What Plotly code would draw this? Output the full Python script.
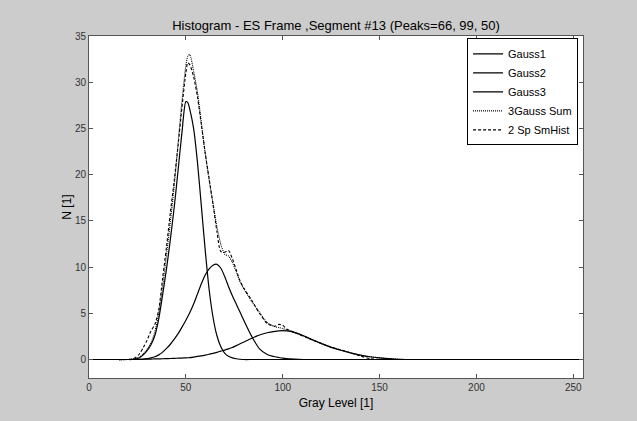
import plotly.graph_objects as go

gray_level = [0, 10, 20, 22, 24, 26, 28, 30, 32, 34, 36, 38, 40, 42, 44, 46, 48, 50, 51, 52,
              54, 56, 58, 60, 62, 64, 66, 68, 70, 72, 74, 76, 78, 80, 84, 88, 92, 96, 98, 100,
              102, 104, 108, 112, 116, 120, 125, 130, 135, 140, 145, 150, 155, 160, 165, 170, 200, 255]

gauss1 = [0, 0, 0, 0, 0.05, 0.2, 0.5, 0.95, 1.6, 2.6, 4.4, 7.0, 9.8, 13.0, 16.5, 20.5, 24.6, 27.9, 27.8, 27.1,
          25.0, 21.3, 16.6, 11.8, 7.6, 4.6, 2.6, 1.4, 0.7, 0.35, 0.18, 0.08, 0.03, 0, 0, 0, 0, 0, 0, 0,
          0, 0, 0, 0, 0, 0, 0, 0, 0, 0, 0, 0, 0, 0, 0, 0, 0, 0]

gauss2 = [0, 0, 0, 0, 0, 0.02, 0.05, 0.1, 0.18, 0.3, 0.5, 0.8, 1.2, 1.65, 2.2, 2.8, 3.5, 4.25, 4.65, 5.05,
          6.0, 7.1, 8.2, 9.15, 9.8, 10.2, 10.3, 9.9, 9.0, 7.9, 6.9, 6.0, 5.1, 4.2, 2.5, 1.15, 0.55, 0.3, 0.22, 0.15,
          0.1, 0.07, 0.03, 0, 0, 0, 0, 0, 0, 0, 0, 0, 0, 0, 0, 0, 0, 0]

gauss3 = [0, 0, 0, 0, 0.01, 0.02, 0.03, 0.04, 0.05, 0.06, 0.07, 0.08, 0.1, 0.11, 0.13, 0.14, 0.16, 0.18, 0.19, 0.2,
          0.26, 0.33, 0.4, 0.48, 0.57, 0.67, 0.78, 0.9, 1.02, 1.15, 1.3, 1.5, 1.7, 1.9, 2.3, 2.65, 2.9, 3.05, 3.1, 3.12,
          3.1, 3.05, 2.8, 2.45, 2.08, 1.72, 1.32, 1.0, 0.72, 0.48, 0.3, 0.18, 0.09, 0.03, 0, 0, 0, 0]

gauss_sum = [0, 0, 0, 0.05, 0.1, 0.25, 0.6, 1.1, 1.8, 3.0, 5.0, 7.9, 11.3, 14.9, 18.8, 23.4, 28.0, 31.8, 32.8, 33.0,
             31.2, 28.9, 25.6, 22.3, 19.4, 16.9, 14.4, 12.5, 11.4, 11.2, 10.5, 9.5, 8.4, 7.6, 6.3, 5.1, 4.0, 3.55, 3.45, 3.35,
             3.2, 3.1, 2.8, 2.45, 2.08, 1.72, 1.32, 1.0, 0.72, 0.48, 0.3, 0.18, 0.09, 0.03, 0, 0, 0, 0]

sm_hist = [0, 0, 0, 0.05, 0.2, 0.6, 1.3, 2.1, 3.1, 3.8, 5.4, 8.8, 12.2, 15.9, 19.4, 23.2, 27.3, 31.0, 32.1, 31.9,
           30.6, 28.4, 25.4, 22.3, 19.6, 16.8, 13.9, 11.7, 11.6, 11.8, 10.9, 9.7, 8.5, 7.7, 6.4, 5.0, 3.9, 3.6, 3.8, 3.7,
           3.3, 3.1, 2.75, 2.4, 2.05, 1.75, 1.35, 1.05, 0.72, 0.38, 0.1, 0, 0, 0, 0, 0, 0, 0]

x_ticks = [0, 50, 100, 150, 200, 250]
y_ticks = [0, 5, 10, 15, 20, 25, 30, 35]

series = [
    ("Gauss1", gauss1, "solid", 1.2),
    ("Gauss2", gauss2, "solid", 1.2),
    ("Gauss3", gauss3, "solid", 1.2),
    ("3Gauss Sum", gauss_sum, "1px,1px", 1.1),
    ("2 Sp SmHist", sm_hist, "3px,2px", 1.1),
]

FONT = "Arial, Liberation Sans, sans-serif"
fig = go.Figure()
for name, ys, dash, w in series:
    fig.add_trace(go.Scatter(x=gray_level, y=ys, mode="lines", name=name,
                             line=dict(color="black", width=w, dash=dash, shape="spline", smoothing=0.7)))

axis_common = dict(showgrid=False, zeroline=False, showline=True, linecolor="#555555", linewidth=1,
                   mirror="ticks", ticks="inside", ticklen=4, tickcolor="#555555",
                   tickfont=dict(family=FONT, size=10, color="#333333"))

fig.update_layout(
    width=637, height=421,
    paper_bgcolor="#CCCCCC", plot_bgcolor="white",
    margin=dict(l=89, r=54, t=36, b=43),
    title=dict(text="Histogram - ES Frame ,Segment #13 (Peaks=66, 99, 50)",
               x=0.5, xanchor="center", xref="paper", y=1 - 25 / 421, yref="container", yanchor="middle",
               font=dict(family=FONT, size=13, color="black")),
    xaxis=dict(range=[0, 255], tickvals=x_ticks, title=dict(text="Gray Level [1]", standoff=6,
               font=dict(family=FONT, size=12, color="black")), **axis_common),
    yaxis=dict(range=[-2, 35], tickvals=y_ticks, title=dict(text="N [1]", standoff=0,
               font=dict(family=FONT, size=12, color="black")), **axis_common),
    legend=dict(x=0.99, y=0.993, xanchor="right", yanchor="top", bgcolor="white",
                bordercolor="black", borderwidth=1, tracegroupgap=0, itemwidth=30,
                font=dict(family=FONT, size=11, color="black")),
    showlegend=True,
)

fig.write_html("out.html", config={"displayModeBar": False},
               post_script="document.body.style.margin='0';document.body.style.overflow='hidden';")
